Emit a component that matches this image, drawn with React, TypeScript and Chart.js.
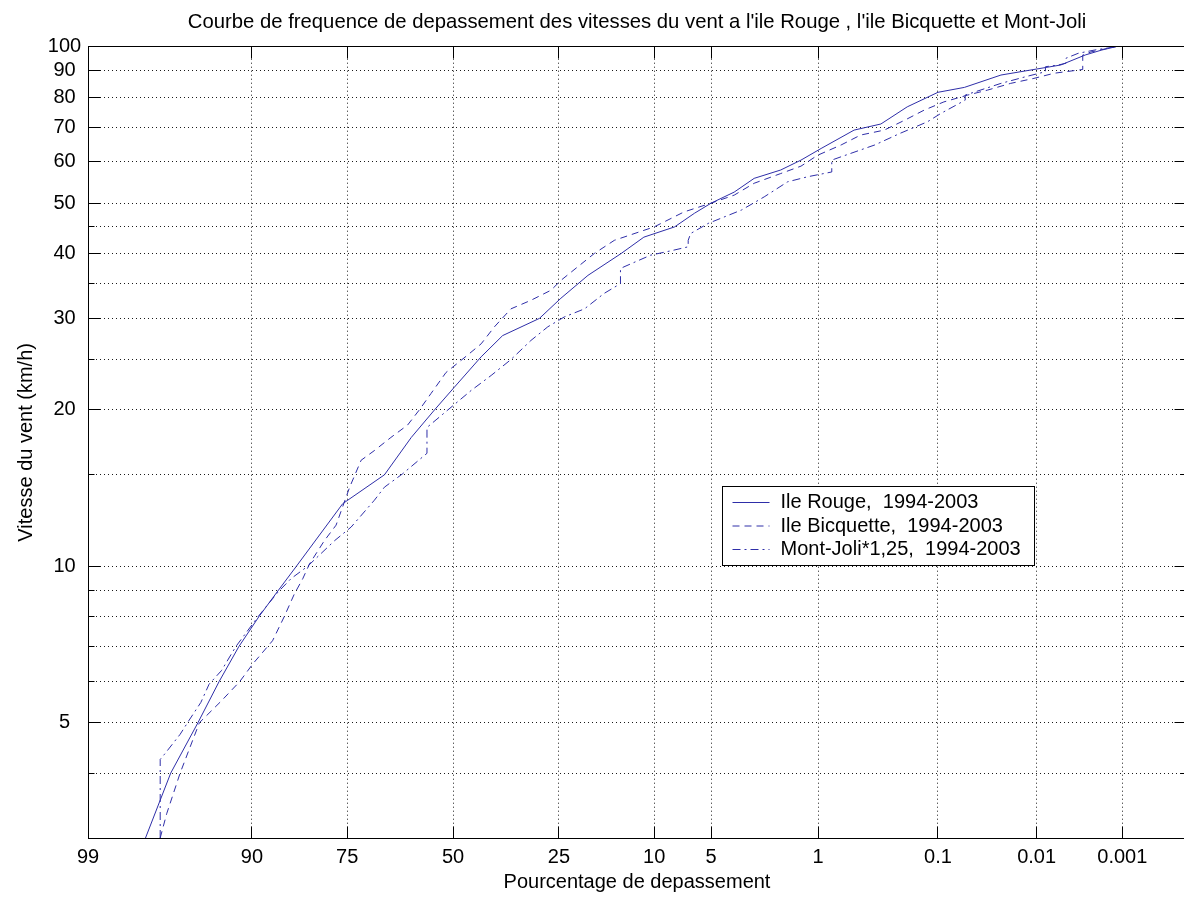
import { useEffect, useRef } from 'react';
import { Chart, registerables, LinearScale } from 'chart.js';

Chart.register(...registerables);

// ---------- data (exceedance percentage, wind speed km/h) ----------
const rougePct = [97.5, 96.4, 94.8, 93.2, 91.4, 89.2, 86.7, 84.1, 75.9, 66.9, 60.5, 54.7, 49.7, 42.9, 37.6, 29.1, 24.6, 19.5, 14.2, 11.2, 7.9, 6.2, 5.0, 3.66, 2.75, 1.84, 1.33, 0.95, 0.53, 0.32, 0.19, 0.10, 0.056, 0.024, 0.0107, 0.0054, 0.0028, 0.0018, 0.0012];
const rougeSpeed = [3.0, 4.0, 5.0, 6.0, 7.0, 8.0, 9.0, 10.0, 13.2, 15.0, 17.7, 20.0, 22.1, 25.3, 27.8, 30.0, 32.8, 36.3, 40.0, 43.0, 45.0, 47.8, 50.0, 52.5, 55.8, 57.9, 60.5, 63.7, 69.1, 71.0, 76.6, 81.7, 83.5, 88.2, 90.4, 92.2, 96.4, 98.5, 100];

const bicquettePct = [96.9, 96.6, 95.9, 94.7, 93.0, 91.3, 89.9, 87.5, 85.9, 84.4, 83.1, 82.0, 79.4, 77.2, 74.5, 72.1, 69.2, 65.4, 61.4, 58.5, 55.6, 51.8, 46.3, 42.9, 39.6, 35.6, 31.0, 26.6, 24.6, 18.4, 15.2, 10.0, 7.04, 5.0, 3.66, 2.75, 1.84, 1.33, 1.01, 0.67, 0.47, 0.30, 0.20, 0.134, 0.088, 0.052, 0.033, 0.019, 0.0107, 0.0064, 0.0030, 0.0030, 0.0024, 0.0015, 0.0012];
const bicquetteSpeed = [3.0, 3.34, 4.0, 5.0, 5.51, 6.0, 6.49, 7.19, 8.0, 8.85, 9.46, 10.1, 11.2, 12.0, 14.2, 16.0, 16.7, 17.7, 18.7, 20.0, 21.5, 23.6, 25.5, 26.8, 28.9, 31.3, 32.5, 34.0, 35.5, 40.0, 42.4, 45.0, 48.1, 50.0, 51.8, 54.6, 57.0, 58.9, 61.8, 64.7, 67.6, 69.1, 72.2, 75.5, 78.3, 80.7, 82.5, 85.0, 86.9, 88.9, 90.4, 96.4, 97.7, 99.3, 100];

const montJoliPct = [96.9, 96.9, 96.7, 95.9, 95.4, 94.6, 94.0, 93.0, 91.7, 89.3, 86.8, 84.9, 82.3, 77.5, 74.2, 69.2, 66.9, 62.6, 56.6, 56.6, 51.3, 45.4, 40.4, 35.6, 31.0, 27.3, 23.9, 20.1, 16.8, 14.3, 14.3, 13.8, 10.4, 8.2, 6.7, 6.7, 6.5, 5.2, 3.3, 2.37, 1.65, 1.19, 0.79, 0.79, 0.67, 0.36, 0.22, 0.125, 0.094, 0.055, 0.055, 0.024, 0.0124, 0.0080, 0.0080, 0.0058, 0.0047, 0.0047, 0.0034, 0.0022, 0.0012];
const montJoliSpeed = [3.0, 4.25, 4.35, 4.75, 5.04, 5.47, 5.93, 6.30, 7.0, 8.0, 8.91, 9.47, 10.0, 11.2, 11.9, 13.4, 14.2, 15.07, 16.5, 18.5, 20.0, 21.8, 23.3, 25.0, 27.2, 28.9, 30.2, 31.3, 33.5, 35.0, 37.4, 37.7, 39.7, 40.5, 41.2, 42.4, 43.7, 45.7, 48.5, 51.4, 54.95, 56.2, 57.4, 60.5, 61.4, 64.7, 68.1, 71.7, 74.4, 78.9, 80.7, 85.0, 87.8, 89.5, 91.5, 92.2, 92.9, 95.0, 97.1, 98.5, 100];

const seriesLabels = ['Ile Rouge,  1994-2003', 'Ile Bicquette,  1994-2003', 'Mont-Joli*1,25,  1994-2003'];

const xTickValues = [99, 90, 75, 50, 25, 10, 5, 1, 0.1, 0.01, 0.001];
const xTickLabels = ['99', '90', '75', '50', '25', '10', '5', '1', '0.1', '0.01', '0.001'];
const xMinPct = 99;
const xMaxPct = 0.00015;

const yGridValues = [4, 5, 6, 7, 8, 9, 10, 15, 20, 25, 30, 35, 40, 45, 50, 60, 70, 80, 90, 100];
const yTickLabels = [5, 10, 20, 30, 40, 50, 60, 70, 80, 90, 100];
const yMin = 3;
const yMax = 100;

const titleText = "Courbe de frequence de depassement des vitesses du vent a l'ile Rouge , l'ile Bicquette et Mont-Joli";
const xTitle = 'Pourcentage de depassement';
const yTitle = 'Vitesse du vent (km/h)';

// ---------- normal-probability scale ----------
function normInv(p: number): number {
  const a = [-3.969683028665376e1, 2.209460984245205e2, -2.759285104469687e2, 1.38357751867269e2, -3.066479806614716e1, 2.506628277459239];
  const b = [-5.447609879822406e1, 1.615858368580409e2, -1.556989798598866e2, 6.680131188771972e1, -1.328068155288572e1];
  const c = [-7.784894002430293e-3, -3.223964580411365e-1, -2.400758277161838, -2.549671348620040, 4.374664141464968, 2.938163982698783];
  const d = [7.784695709041462e-3, 3.224671290700398e-1, 2.445134137142996, 3.754408661907416];
  const pl = 0.02425;
  if (p < pl) {
    const q = Math.sqrt(-2 * Math.log(p));
    return (((((c[0] * q + c[1]) * q + c[2]) * q + c[3]) * q + c[4]) * q + c[5]) / ((((d[0] * q + d[1]) * q + d[2]) * q + d[3]) * q + 1);
  }
  if (p <= 1 - pl) {
    const q = p - 0.5;
    const r = q * q;
    return ((((((a[0] * r + a[1]) * r + a[2]) * r + a[3]) * r + a[4]) * r + a[5]) * q) / (((((b[0] * r + b[1]) * r + b[2]) * r + b[3]) * r + b[4]) * r + 1);
  }
  const q = Math.sqrt(-2 * Math.log(1 - p));
  return -(((((c[0] * q + c[1]) * q + c[2]) * q + c[3]) * q + c[4]) * q + c[5]) / ((((d[0] * q + d[1]) * q + d[2]) * q + d[3]) * q + 1);
}

class ProbitScale extends LinearScale {
  static id = 'probit';
  static defaults = {};
  parse(raw: any, index: number) {
    const v = (LinearScale.prototype as any).parse.call(this, raw, index);
    if (v === null || v === undefined || !isFinite(v)) return null;
    return -normInv(v / 100);
  }
  buildTicks() {
    (this as any).start = (this as any).min;
    (this as any).end = (this as any).max;
    return xTickValues.map((p) => ({ value: -normInv(p / 100) }));
  }
}
Chart.register(ProbitScale as any);

const FONT = '"Liberation Sans", Arial, Helvetica, sans-serif';
const LINE_COLOR = '#2e2ea8';
const GRID_COLOR = '#1a1a1a';

const toPoints = (pct: number[], spd: number[]) => pct.map((p, i) => ({ x: p, y: spd[i] }));

const frameTicksPlugin = {
  id: 'frameTicks',
  afterDatasetsDraw(chart: any) {
    const { ctx, chartArea: ca, scales } = chart;
    const xs = scales.x;
    const ys = scales.y;
    const L = Math.round(ca.left - 0.5) + 0.5;
    const R = Math.round(ca.right - 0.5) + 0.5;
    const T = Math.round(ca.top - 0.5) + 0.5;
    const B = Math.round(ca.bottom - 0.5) + 0.5;
    ctx.save();
    ctx.strokeStyle = '#000';
    ctx.lineWidth = 1;
    ctx.setLineDash([]);
    ctx.strokeRect(L, T, R - L, B - T);
    ctx.beginPath();
    xs.ticks.forEach((t: any) => {
      const px = Math.round(xs.getPixelForValue(t.value) - 0.5) + 0.5;
      ctx.moveTo(px, B);
      ctx.lineTo(px, B - 12);
      ctx.moveTo(px, T);
      ctx.lineTo(px, T + 12);
    });
    ys.ticks.forEach((t: any) => {
      const py = Math.round(ys.getPixelForValue(t.value) - 0.5) + 0.5;
      const len = yTickLabels.includes(t.value) ? 12 : 6;
      ctx.moveTo(L, py);
      ctx.lineTo(L + len, py);
      ctx.moveTo(R, py);
      ctx.lineTo(R - len, py);
    });
    ctx.stroke();
    ctx.restore();
  },
};

const legendBoxPlugin = {
  id: 'legendBox',
  afterDraw(chart: any) {
    const { ctx, chartArea: ca } = chart;
    ctx.save();
    ctx.font = `20px ${FONT}`;
    const dsets = chart.data.datasets;
    const maxW = Math.max(...dsets.map((d: any) => ctx.measureText(d.label).width));
    const x0 = Math.round(ca.left + ca.width * 0.5771) + 0.5;
    const y0 = Math.round(ca.top + ca.height * 0.5548) + 0.5;
    const w = Math.round(58 + maxW + 14);
    const h = 79;
    ctx.fillStyle = '#fff';
    ctx.fillRect(x0, y0, w, h);
    ctx.strokeStyle = '#000';
    ctx.lineWidth = 1;
    ctx.strokeRect(x0, y0, w, h);
    dsets.forEach((d: any, i: number) => {
      const cy = y0 + 16 + i * 23.5;
      ctx.strokeStyle = d.borderColor;
      ctx.lineWidth = d.borderWidth;
      ctx.setLineDash(d.borderDash || []);
      ctx.beginPath();
      ctx.moveTo(x0 + 10, cy);
      ctx.lineTo(x0 + 47, cy);
      ctx.stroke();
      ctx.setLineDash([]);
      ctx.fillStyle = '#000';
      ctx.textAlign = 'left';
      ctx.textBaseline = 'middle';
      ctx.fillText(d.label, x0 + 58, cy);
    });
    ctx.restore();
  },
};

export default function App() {
  const ref = useRef<HTMLCanvasElement>(null);

  useEffect(() => {
    if (!ref.current) return;
    Chart.defaults.font.family = FONT;
    Chart.defaults.font.size = 20;
    Chart.defaults.color = '#000';

    const chart = new Chart(ref.current, {
      type: 'line',
      data: {
        datasets: [
          {
            label: seriesLabels[0],
            data: toPoints(rougePct, rougeSpeed),
            borderColor: LINE_COLOR,
            borderWidth: 1,
            borderDash: [],
            pointRadius: 0,
            tension: 0,
            fill: false,
          },
          {
            label: seriesLabels[1],
            data: toPoints(bicquettePct, bicquetteSpeed),
            borderColor: LINE_COLOR,
            borderWidth: 1,
            borderDash: [7, 5],
            pointRadius: 0,
            tension: 0,
            fill: false,
          },
          {
            label: seriesLabels[2],
            data: toPoints(montJoliPct, montJoliSpeed),
            borderColor: LINE_COLOR,
            borderWidth: 1,
            borderDash: [8, 4, 2, 4],
            pointRadius: 0,
            tension: 0,
            fill: false,
          },
        ],
      },
      options: {
        animation: false,
        responsive: false,
        events: [],
        layout: { padding: { left: 0, right: 4, top: 0, bottom: 0 } },
        plugins: {
          legend: { display: false },
          tooltip: { enabled: false },
          title: {
            display: true,
            text: titleText,
            fullSize: false,
            color: '#000',
            font: { size: 20.3, weight: 'normal', family: FONT, lineHeight: 1.2 },
            padding: { top: 10.5, bottom: 11.84 },
          },
        },
        scales: {
          x: {
            type: 'probit' as any,
            min: xMinPct,
            max: xMaxPct,
            afterFit: (s: any) => {
              s.height = 59;
            },
            grid: { color: GRID_COLOR, lineWidth: 1, drawTicks: false },
            border: { display: false, dash: [1, 3] },
            ticks: {
              autoSkip: false,
              maxRotation: 0,
              padding: 7.5,
              color: '#000',
              callback: (_v: any, i: number) => xTickLabels[i],
            },
            title: {
              display: true,
              text: xTitle,
              color: '#000',
              font: { size: 20 },
              padding: { top: 0, bottom: 3 },
            },
          },
          y: {
            type: 'logarithmic',
            min: yMin,
            max: yMax,
            afterFit: (s: any) => {
              s.width = 88;
            },
            afterBuildTicks: (axis: any) => {
              axis.ticks = yGridValues.map((v) => ({ value: v }));
            },
            grid: { color: GRID_COLOR, lineWidth: 1, drawTicks: false },
            border: { display: false, dash: [1, 3] },
            ticks: {
              autoSkip: false,
              crossAlign: 'center',
              padding: 6.8,
              color: '#000',
              callback: (v: any) => (yTickLabels.includes(Number(v)) ? String(v) : ''),
            },
            title: {
              display: true,
              text: yTitle,
              color: '#000',
              font: { size: 20 },
              padding: { top: 14, bottom: 0 },
            },
          },
        },
      } as any,
      plugins: [frameTicksPlugin, legendBoxPlugin],
    });
    return () => chart.destroy();
  }, []);

  return (
    <div style={{ position: 'absolute', left: 0, top: 0, width: 1184, height: 897, overflow: 'hidden', background: '#fff' }}>
      <canvas ref={ref} width={1190} height={897} style={{ display: 'block', width: 1190, height: 897 }} />
    </div>
  );
}
